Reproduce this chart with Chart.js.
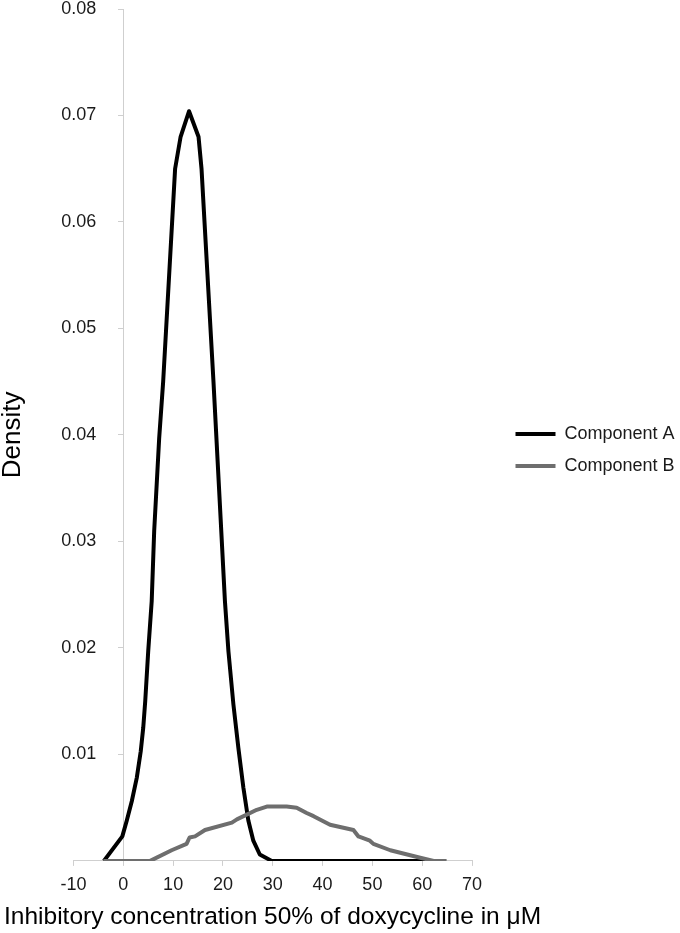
<!DOCTYPE html>
<html>
<head>
<meta charset="utf-8">
<script src="https://cdn.jsdelivr.net/npm/chart.js@4.4.1/dist/chart.umd.min.js"></script>
<style>
html,body{margin:0;padding:0;background:#fff;}
canvas{display:block;}
</style>
</head>
<body>
<canvas id="c" width="680" height="933"></canvas>
<script>
// ---- data ----
const seriesNames = ['Component A', 'Component B'];
const compA_x = [-3.9, -0.2, 0.7, 1.7, 2.7, 3.5, 4.0, 4.4, 5.0, 5.7, 6.2, 7.2, 8.0, 10.4, 11.5, 13.2, 15.1, 15.7, 18.1, 20.4, 21.1, 22.1, 23.1, 24.1, 25.1, 26.1, 27.4, 29.8, 61.5];
const compA_y = [0, 0.0023, 0.0038, 0.0056, 0.0078, 0.0103, 0.0125, 0.015, 0.0197, 0.0244, 0.031, 0.0397, 0.045, 0.065, 0.068, 0.0704, 0.068, 0.065, 0.045, 0.0244, 0.0197, 0.0147, 0.0106, 0.0069, 0.0038, 0.0019, 0.0006, 0, 0];
const compB_x = [-4.0, 5.4, 9.7, 12.7, 13.3, 14.4, 16.4, 21.8, 22.8, 26.8, 28.8, 32.8, 34.8, 36.8, 38.2, 41.5, 46.2, 47.2, 49.5, 50.2, 53.6, 59.6, 62.3, 64.9];
const compB_y = [0, 0, 0.001, 0.0016, 0.0022, 0.0023, 0.0029, 0.0036, 0.0039, 0.0048, 0.0051, 0.0051, 0.005, 0.0045, 0.0042, 0.0034, 0.0029, 0.0023, 0.0019, 0.0016, 0.001, 0.0003, 0, 0];
const xTicks = [-10, 0, 10, 20, 30, 40, 50, 60, 70];
const yTicks = [0.01, 0.02, 0.03, 0.04, 0.05, 0.06, 0.07, 0.08];
const xTitle = 'Inhibitory concentration 50% of doxycycline in μM';
const yTitle = 'Density';

// ---- styling ----
const FONT = 'Liberation Sans, Arial, Helvetica, sans-serif';
const AXIS = '#cfcfcf';
const TEXT = '#1a1a1a';
const LEGEND_BOX = {left: 501.5, right: 680, top: 411, bottom: 489};
const TITLE_RIGHT = 680;
const Y_LABEL_AT = -5.42;   // x-value where the y tick labels end (gap left of the y axis)

const boxPlace = {
  id: 'boxPlace',
  afterLayout(chart) {
    const lg = chart.legend;
    if (lg) {
      lg.left = LEGEND_BOX.left; lg.right = LEGEND_BOX.right;
      lg.top = LEGEND_BOX.top; lg.bottom = LEGEND_BOX.bottom;
      lg.width = lg.right - lg.left; lg.height = lg.bottom - lg.top;
    }
    const t = chart.titleBlock;
    if (t) { t.right = TITLE_RIGHT; t.width = t.right - t.left; }
  }
};

new Chart(document.getElementById('c'), {
  type: 'line',
  data: {
    datasets: [
      {
        label: seriesNames[0],
        data: compA_x.map((x, i) => ({x: x, y: compA_y[i]})),
        borderColor: '#000000',
        backgroundColor: '#000000',
        borderWidth: 4,
        pointRadius: 0,
        tension: 0,
        borderJoinStyle: 'round',
        order: 1,
        xAxisID: 'x', yAxisID: 'y'
      },
      {
        label: seriesNames[1],
        data: compB_x.map((x, i) => ({x: x, y: compB_y[i]})),
        borderColor: '#6e6e6e',
        backgroundColor: '#6e6e6e',
        borderWidth: 4,
        pointRadius: 0,
        tension: 0,
        borderJoinStyle: 'round',
        order: 0,
        xAxisID: 'x', yAxisID: 'y'
      }
    ]
  },
  options: {
    responsive: false,
    animation: false,
    devicePixelRatio: 1,
    layout: {padding: {left: 4, right: 207, top: 9, bottom: 4}},
    plugins: {
      tooltip: {enabled: false},
      legend: {
        position: 'right',
        maxWidth: 1,
        labels: {
          usePointStyle: true,
          pointStyle: 'line',
          pointStyleWidth: 40,
          padding: 14,
          color: TEXT,
          font: {family: FONT, size: 18},
          sort: (a, b) => a.datasetIndex - b.datasetIndex
        }
      },
      title: {
        display: true,
        text: xTitle,
        position: 'bottom',
        align: 'start',
        fullSize: true,
        color: '#000',
        font: {family: FONT, size: 24.5, weight: 'normal', lineHeight: 1},
        padding: {top: 1, bottom: 0}
      },
      subtitle: {
        display: true,
        text: yTitle,
        position: 'left',
        align: 'center',
        fullSize: false,
        color: '#000',
        font: {family: FONT, size: 26, weight: 'normal', lineHeight: 0.7},
        padding: {top: 0, bottom: 51.3}
      }
    },
    scales: {
      x: {
        type: 'linear',
        position: 'bottom',
        min: -10, max: 70,
        afterBuildTicks: (s) => { s.ticks = xTicks.map(v => ({value: v})); },
        grid: {display: true, drawOnChartArea: false, drawTicks: true, tickLength: 5, color: AXIS},
        border: {display: true, color: AXIS, width: 1},
        ticks: {color: TEXT, font: {family: FONT, size: 18}, padding: 8, maxRotation: 0, autoSkip: false,
                callback: (v) => String(v)},
        title: {display: false}
      },
      y: {
        type: 'linear',
        position: {x: 0},
        min: 0, max: 0.08,
        afterBuildTicks: (s) => { s.ticks = yTicks.map(v => ({value: v})); },
        grid: {display: true, drawOnChartArea: false, drawTicks: true, tickLength: 5, color: AXIS},
        border: {display: true, color: AXIS, width: 1},
        ticks: {display: false},
        title: {display: false}
      },
      yl: {
        type: 'linear',
        axis: 'y',
        position: {x: Y_LABEL_AT},
        min: 0, max: 0.08,
        afterBuildTicks: (s) => { s.ticks = yTicks.map(v => ({value: v})); },
        grid: {display: false, drawTicks: false},
        border: {display: false},
        ticks: {color: TEXT, font: {family: FONT, size: 18, lineHeight: 0.7}, padding: 0,
                callback: (v) => Number(v).toFixed(2)},
        title: {display: false}
      }
    }
  },
  plugins: [boxPlace]
});
</script>
</body>
</html>
